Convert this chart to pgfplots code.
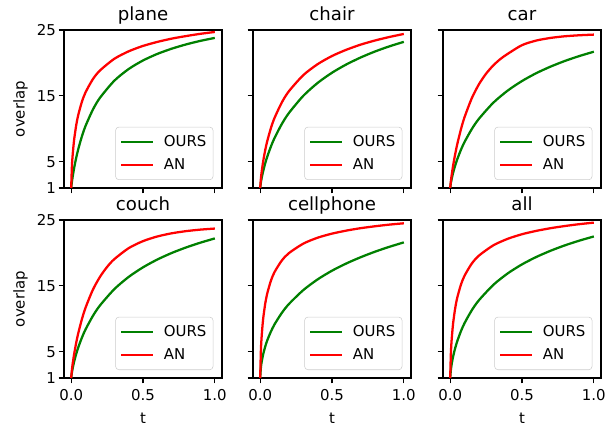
\documentclass[border=0pt]{standalone}
\usepackage{fontspec}
\setmainfont{DejaVu Sans}
\setsansfont{DejaVu Sans}
\usepackage{pgfplots}
\pgfplotsset{compat=1.18}

\definecolor{mgreen}{HTML}{008000}
\definecolor{mred}{HTML}{FF0000}

\pgfplotsset{
  panel/.style={
    width=118.5pt, height=118.5pt, scale only axis, anchor=north west,
    xmin=-0.05, xmax=1.05, ymin=1, ymax=25,
    xtick={0,0.5,1}, ytick={1,5,15,25},
    xtick pos=bottom, ytick pos=left,
    tick align=outside, major tick length=4pt,
    tick style={black, line width=0.9pt},
    axis line style={line width=0.9pt},
    font=\fontsize{11.2}{13.4}\selectfont,
    /pgf/number format/assume math mode=true,
    xticklabel style={yshift=-1pt, /pgf/number format/.cd, fixed, fixed zerofill, precision=1},
    yticklabel style={xshift=1.5pt},
    xlabel style={yshift=-2.5pt},
    title style={text depth=0pt, inner sep=0pt, yshift=1pt, font=\fontsize{13.6}{16}\selectfont},
    legend style={at={(1,0)}, anchor=south east, xshift=-6.5pt, yshift=6pt,
      draw=black!20, rounded corners=2.5pt, fill=white, fill opacity=0.8,
      text opacity=1, inner xsep=3.5pt, inner ysep=4.5pt, row sep=5pt,
      nodes={inner sep=1.5pt},
      /tikz/every odd column/.append style={column sep=6pt},
      font=\fontsize{11.2}{13.4}\selectfont},
    legend cell align=left,
    legend image code/.code={\draw[#1, line width=1.7pt] (0pt,0pt) -- (23.5pt,0pt);},
    smooth, tension=0.45,
  },
  ours/.style={color=mgreen, line width=1.7pt},
  an/.style={color=mred, line width=1.7pt},
}

\begin{document}
\begin{tikzpicture}
\useasboundingbox (0,0) rectangle (462pt,-320.25pt);
% plane
\begin{axis}[panel, at={(48pt,-22.5pt)}, title=plane, ylabel=overlap, xticklabels={}]
\addplot[ours] coordinates {(0,1) (0.005,1.92) (0.01,2.66) (0.02,3.96) (0.035,5.59) (0.05,6.96) (0.075,8.87) (0.1,10.43) (0.15,12.86) (0.2,14.69) (0.3,17.29) (0.4,19.07) (0.5,20.37) (0.6,21.37) (0.7,22.16) (0.8,22.81) (0.9,23.35) (1.0,23.8)};
\addplot[an] coordinates {(0,1) (0.005,4.26) (0.01,5.94) (0.02,8.24) (0.035,10.53) (0.05,12.16) (0.075,14.12) (0.1,15.53) (0.15,17.5) (0.2,18.84) (0.3,20.62) (0.4,21.76) (0.5,22.58) (0.6,23.19) (0.7,23.69) (0.8,24.08) (0.9,24.42) (1.0,24.7)};
\legend{OURS,AN}
\end{axis}
% chair
\begin{axis}[panel, at={(189.75pt,-22.5pt)}, title=chair, xticklabels={}, yticklabels={}]
\addplot[ours] coordinates {(0,1) (0.005,1.86) (0.01,2.48) (0.02,3.49) (0.035,4.75) (0.05,5.81) (0.075,7.32) (0.1,8.6) (0.15,10.7) (0.2,12.39) (0.3,15.0) (0.4,16.96) (0.5,18.51) (0.6,19.77) (0.7,20.83) (0.8,21.74) (0.9,22.52) (1.0,23.2)};
\addplot[an] coordinates {(0,1) (0.005,2.43) (0.01,3.4) (0.02,4.94) (0.035,6.75) (0.05,8.19) (0.075,10.12) (0.1,11.65) (0.15,13.97) (0.2,15.7) (0.3,18.14) (0.4,19.81) (0.5,21.05) (0.6,22.0) (0.7,22.78) (0.8,23.41) (0.9,23.94) (1.0,24.4)};
\legend{OURS,AN}
\end{axis}
% car
\begin{axis}[panel, at={(332.25pt,-22.5pt)}, title=car, xticklabels={}, yticklabels={}]
\addplot[ours] coordinates {(0,1) (0.005,1.79) (0.01,2.35) (0.02,3.28) (0.035,4.43) (0.05,5.41) (0.075,6.81) (0.1,7.99) (0.15,9.94) (0.2,11.51) (0.3,13.95) (0.4,15.79) (0.5,17.25) (0.6,18.45) (0.7,19.45) (0.8,20.31) (0.9,21.05) (1.0,21.7)};
\addplot[an] coordinates {(0,1) (0.005,2.08) (0.01,2.91) (0.02,4.36) (0.035,6.17) (0.05,7.73) (0.075,9.93) (0.1,11.76) (0.15,14.62) (0.2,16.75) (0.25,18.37) (0.3,19.62) (0.35,20.6) (0.4,21.37) (0.5,22.7) (0.6,23.4) (0.7,23.8) (0.8,24.05) (0.9,24.2) (1.0,24.3)};
\legend{OURS,AN}
\end{axis}
% couch
\begin{axis}[panel, at={(48pt,-165pt)}, title=couch, ylabel=overlap, xlabel=t]
\addplot[ours] coordinates {(0,1) (0.005,1.84) (0.01,2.44) (0.02,3.43) (0.035,4.65) (0.05,5.69) (0.075,7.15) (0.1,8.38) (0.15,10.39) (0.2,12.01) (0.3,14.49) (0.4,16.35) (0.5,17.81) (0.6,19.0) (0.7,19.99) (0.8,20.83) (0.9,21.56) (1.0,22.2)};
\addplot[an] coordinates {(0,1) (0.005,2.22) (0.01,3.1) (0.02,4.56) (0.035,6.36) (0.05,7.87) (0.075,9.96) (0.1,11.68) (0.15,14.36) (0.2,16.35) (0.25,17.87) (0.3,19.05) (0.4,20.72) (0.5,21.79) (0.6,22.5) (0.7,22.98) (0.8,23.31) (0.9,23.54) (1.0,23.7)};
\legend{OURS,AN}
\end{axis}
% cellphone
\begin{axis}[panel, at={(189.75pt,-165pt)}, title=cellphone, xlabel=t, yticklabels={}]
\addplot[ours] coordinates {(0,1) (0.005,2.61) (0.01,3.39) (0.02,4.52) (0.035,5.77) (0.05,6.76) (0.075,8.07) (0.1,9.15) (0.15,10.87) (0.2,12.24) (0.3,14.35) (0.4,15.98) (0.5,17.3) (0.6,18.4) (0.7,19.35) (0.8,20.19) (0.9,20.93) (1.0,21.6)};
\addplot[an] coordinates {(0,1) (0.005,5.23) (0.01,7.24) (0.02,9.85) (0.035,12.28) (0.05,13.92) (0.075,15.8) (0.1,17.1) (0.15,18.83) (0.2,19.97) (0.3,21.41) (0.4,22.31) (0.5,22.93) (0.6,23.39) (0.7,23.76) (0.8,24.05) (0.9,24.3) (1.0,24.5)};
\legend{OURS,AN}
\end{axis}
% all
\begin{axis}[panel, at={(332.25pt,-165pt)}, title=all, xlabel=t, yticklabels={}]
\addplot[ours] coordinates {(0,1) (0.005,2.29) (0.01,3.05) (0.02,4.22) (0.035,5.56) (0.05,6.64) (0.075,8.12) (0.1,9.34) (0.15,11.28) (0.2,12.81) (0.3,15.14) (0.4,16.88) (0.5,18.26) (0.6,19.39) (0.7,20.34) (0.8,21.16) (0.9,21.87) (1.0,22.5)};
\addplot[an] coordinates {(0,1) (0.005,4.84) (0.01,6.73) (0.02,9.23) (0.035,11.62) (0.05,13.27) (0.075,15.19) (0.1,16.54) (0.15,18.37) (0.2,19.59) (0.3,21.15) (0.4,22.14) (0.5,22.84) (0.6,23.35) (0.7,23.76) (0.8,24.09) (0.9,24.37) (1.0,24.6)};
\legend{OURS,AN}
\end{axis}
\end{tikzpicture}
\end{document}
